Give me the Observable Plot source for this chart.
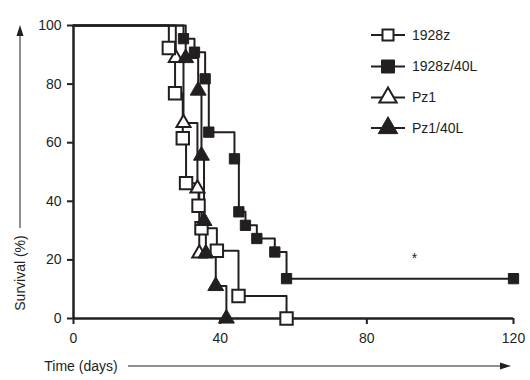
<!DOCTYPE html>
<html><head><meta charset="utf-8">
<script src="https://cdn.jsdelivr.net/npm/d3@7"></script>
<script src="https://cdn.jsdelivr.net/npm/@observablehq/plot@0.6"></script>
<style>
body{margin:0;background:#fff;font-family:"Liberation Sans",Arial,Helvetica,sans-serif;}
#wrap{position:relative;width:530px;height:380px;}
</style></head><body><div id="wrap"></div>
<script>
// ---- data ----
const groups = ["1928z", "1928z/40L", "Pz1", "Pz1/40L"];
const t1928z = [26.0, 27.7, 29.8, 30.7, 34.1, 34.9, 39.1, 45.0, 58.1];
const s1928z = [92.3, 76.9, 61.5, 46.2, 38.5, 30.8, 23.1, 7.7, 0];
const t1928z40L = [30.0, 33.0, 35.9, 36.9, 43.9, 45.1, 46.9, 50.0, 54.9, 58.1, 120];
const s1928z40L = [95.5, 90.9, 81.8, 63.6, 54.5, 36.4, 31.8, 27.3, 22.7, 13.6, 13.6];
const tPz1 = [27.9, 30.0, 33.8, 34.3];
const sPz1 = [88.9, 66.7, 44.4, 22.2];
const tPz140L = [30.6, 34.0, 34.9, 35.6, 36.1, 38.8, 41.7];
const sPz140L = [88.9, 77.8, 55.6, 33.3, 22.2, 11.1, 0];
const xTicks = [0, 40, 80, 120];
const yTicks = [0, 20, 40, 60, 80, 100];
const noteX = [93];
const noteY = [20.5];
const noteText = ["*"];
const xLabel = "Time (days)";
const yLabel = "Survival (%)";

// ---- build tables ----
function steps(g, ts, ss) {
  return [{g, t: 0, s: 100}].concat(ts.map((t, i) => ({g, t, s: ss[i]})));
}
function pts(g, ts, ss) { return ts.map((t, i) => ({g, t, s: ss[i]})); }
const series = [
  steps(groups[0], t1928z, s1928z),
  steps(groups[1], t1928z40L, s1928z40L),
  steps(groups[2], tPz1, sPz1),
  steps(groups[3], tPz140L, sPz140L)
].flat();
const ink = "#231f20";
const notes = noteX.map((x, i) => ({x, y: noteY[i], text: noteText[i]}));

const chart = Plot.plot({
  width: 530, height: 380,
  marginLeft: 73, marginRight: 17, marginTop: 25, marginBottom: 62,
  style: {fontSize: "14px", fontFamily: '"Liberation Sans", Arial, Helvetica, sans-serif', color: ink, background: "#fff"},
  x: {domain: [0, 120]},
  y: {domain: [0, 100]},
  marks: [
    Plot.axisX({ticks: xTicks, tickSize: 6, tickPadding: 9, strokeWidth: 2, label: null, tickFormat: d => d}),
    Plot.axisY({ticks: yTicks, tickSize: 6, tickPadding: 6, strokeWidth: 2, label: null, tickFormat: d => d}),
    Plot.ruleX([0], {y1: 0, y2: 100, stroke: ink, strokeWidth: 2.5}),
    Plot.ruleY([0], {x1: 0, x2: 120, stroke: ink, strokeWidth: 2.5}),
    Plot.line(series, {x: "t", y: "s", z: "g", curve: "step-after", stroke: ink, strokeWidth: 2}),
    Plot.dot(pts(groups[2], tPz1, sPz1), {x: "t", y: "s", symbol: "triangle", r: 5.2, fill: "white", stroke: ink, strokeWidth: 2}),
    Plot.dot(pts(groups[0], t1928z, s1928z), {x: "t", y: "s", symbol: "square", r: 7.0, fill: "white", stroke: ink, strokeWidth: 2}),
    Plot.dot(pts(groups[3], tPz140L, sPz140L), {x: "t", y: "s", symbol: "triangle", r: 5.9, fill: ink, stroke: ink, strokeWidth: 1}),
    Plot.dot(pts(groups[1], t1928z40L, s1928z40L), {x: "t", y: "s", symbol: "square", r: 5.8, fill: ink, stroke: ink, strokeWidth: 1}),
    Plot.text(notes, {x: "x", y: "y", text: "text", fontSize: 14, fill: ink})
  ]
});
document.getElementById("wrap").appendChild(chart);

// ---- axis titles with arrows ----
const svg = d3.select(chart);
svg.append("text").attr("x", 81).attr("y", 366).attr("dy", "0.35em")
  .attr("text-anchor", "middle").attr("fill", ink).style("font-size", "14px").text(xLabel);
svg.append("line").attr("x1", 128).attr("x2", 502).attr("y1", 366).attr("y2", 366)
  .attr("stroke", ink).attr("stroke-width", 1);
svg.append("path").attr("d", "M511,366 L500,362.5 L500,369.5 Z").attr("fill", ink);

svg.append("text").attr("transform", "translate(20,273) rotate(-90)").attr("dy", "0.35em")
  .attr("text-anchor", "middle").attr("fill", ink).style("font-size", "14px").text(yLabel);
svg.append("line").attr("x1", 20).attr("x2", 20).attr("y1", 228).attr("y2", 34)
  .attr("stroke", ink).attr("stroke-width", 1);
svg.append("path").attr("d", "M20,25 L16.5,36 L23.5,36 Z").attr("fill", ink);

// ---- legend ----
const legendRows = [35, 66.5, 97.5, 128];
const legendSym = [
  {type: d3.symbolSquare, size: 121, fill: "white", sw: 2},
  {type: d3.symbolSquare, size: 169, fill: ink, sw: 1},
  {type: d3.symbolTriangle, size: 130, fill: "white", sw: 2},
  {type: d3.symbolTriangle, size: 165, fill: ink, sw: 1}
];
const lg = svg.append("g");
groups.forEach((g, i) => {
  const y = legendRows[i];
  lg.append("line").attr("x1", 371).attr("x2", 405).attr("y1", y).attr("y2", y)
    .attr("stroke", ink).attr("stroke-width", 2);
  lg.append("path").attr("d", d3.symbol(legendSym[i].type, legendSym[i].size)())
    .attr("transform", `translate(388,${y})`).attr("fill", legendSym[i].fill)
    .attr("stroke", ink).attr("stroke-width", legendSym[i].sw);
  lg.append("text").attr("x", 412).attr("y", y).attr("dy", "0.35em")
    .attr("text-anchor", "start")
    .attr("fill", ink).style("font-size", "14px").text(g);
});
</script>
</body></html>
